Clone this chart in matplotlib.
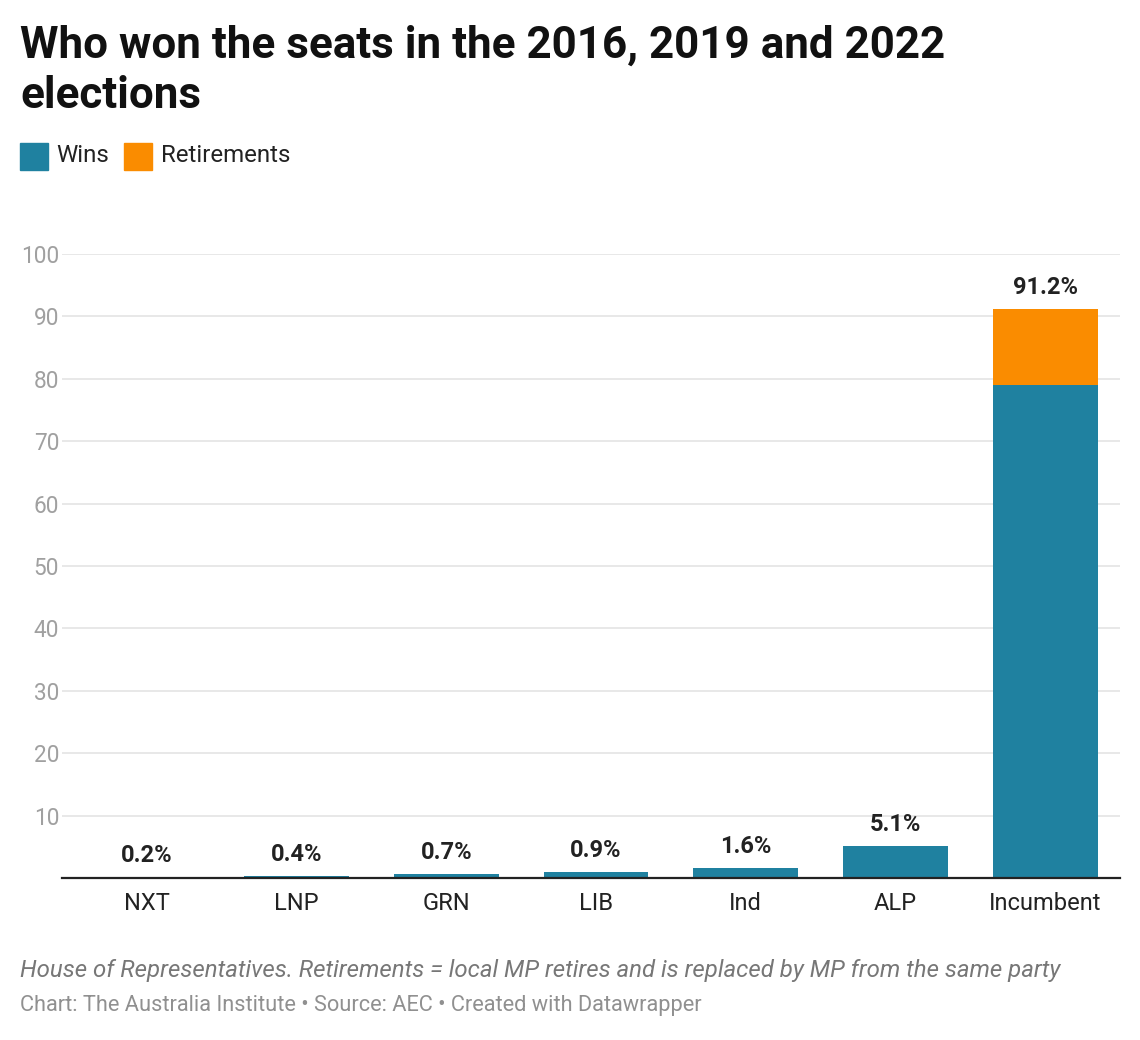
import matplotlib.pyplot as plt
from matplotlib.patches import Rectangle

plt.rcParams['font.family'] = ['Roboto', 'DejaVu Sans']

parties = ["NXT", "LNP", "GRN", "LIB", "Ind", "ALP", "Incumbent"]
wins = [0.2, 0.4, 0.7, 0.9, 1.6, 5.1, 79.0]
retirements = [0, 0, 0, 0, 0, 0, 12.2]
totals = ["0.2%", "0.4%", "0.7%", "0.9%", "1.6%", "5.1%", "91.2%"]

blue = "#1f81a0"
orange = "#fa8c00"

fig = plt.figure(figsize=(11.4, 10.4), dpi=100)
ax = fig.add_axes([62 / 1140, 1 - 878 / 1040, (1120 - 62) / 1140, 624 / 1040])

x = range(len(parties))
ax.bar(x, wins, width=0.7, color=blue, zorder=3)
ax.bar(x, retirements, width=0.7, bottom=wins, color=orange, zorder=3)

for i in x:
    top = wins[i] + retirements[i]
    ax.text(i, top + 1.6, totals[i], ha='center', va='bottom',
            fontsize=17, fontweight='bold', color='#222222')

ax.set_xlim(-0.568, 6.5)
ax.set_ylim(0, 100)
ax.set_yticks(range(10, 101, 10))
ax.yaxis.grid(True, color='#e6e6e6', linewidth=1.3, zorder=0)
ax.tick_params(axis='y', length=0, labelsize=16.3, labelcolor='#a0a0a0', pad=2)
ax.tick_params(axis='x', length=0, labelsize=17, labelcolor='#222222', pad=10)
ax.set_xticks(list(x))
ax.set_xticklabels(parties)
for s in ['top', 'right', 'left']:
    ax.spines[s].set_visible(False)
ax.spines['bottom'].set_color('#222222')
ax.spines['bottom'].set_linewidth(1.6)
ax.spines['bottom'].set_zorder(4)

fig.text(20 / 1140, 1 - 46 / 1040, "Who won the seats in the 2016, 2019 and 2022",
         fontsize=31.7, fontweight='bold', va='center', color='#111111')
fig.text(20 / 1140, 1 - 96 / 1040, "elections",
         fontsize=31.7, fontweight='bold', va='center', color='#111111')

# legend
fig.patches.append(Rectangle((20 / 1140, 1 - 170 / 1040), 28 / 1140, 27 / 1040,
                             transform=fig.transFigure, color=blue))
fig.text(56 / 1140, 1 - 156 / 1040, "Wins", fontsize=17.3, va='center', color='#222222')
fig.patches.append(Rectangle((124 / 1140, 1 - 170 / 1040), 28 / 1140, 27 / 1040,
                             transform=fig.transFigure, color=orange))
fig.text(161 / 1140, 1 - 156 / 1040, "Retirements", fontsize=17.3, va='center', color='#222222')

fig.text(20 / 1140, 1 - 970 / 1040,
         "House of Representatives. Retirements = local MP retires and is replaced by MP from the same party",
         fontsize=17.3, style='italic', va='center', color='#777777')
fig.text(20 / 1140, 1 - 1006 / 1040,
         "Chart: The Australia Institute \u2022 Source: AEC \u2022 Created with Datawrapper",
         fontsize=15.7, va='center', color='#909090')

fig.savefig("out.png", dpi=100)
